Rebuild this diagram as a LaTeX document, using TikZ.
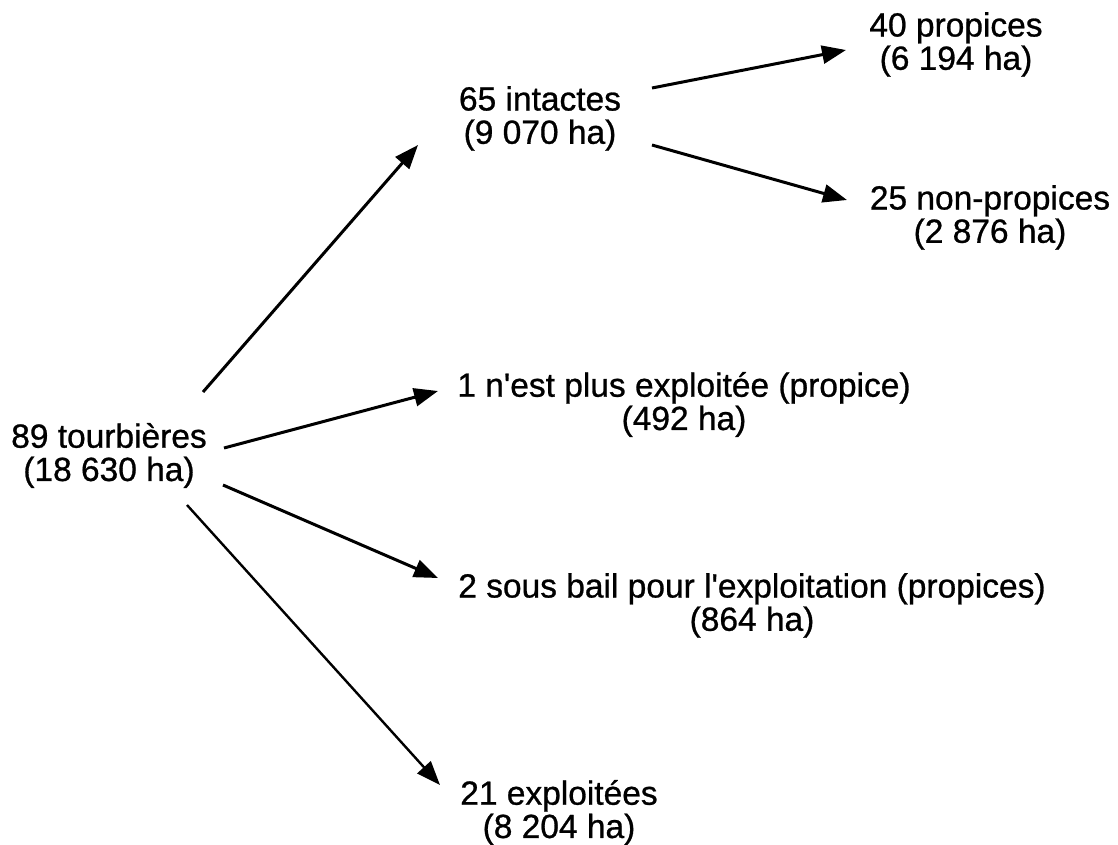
\documentclass[tikz,border=0pt]{standalone}
\usepackage{fontspec}
\setmainfont{Liberation Sans}[Ligatures=TeXOff,FakeBold=0.8]
\usetikzlibrary{arrows.meta}
\newcommand\lstrut{\rule[-8pt]{0pt}{32pt}}
\tikzset{
  lbl/.style={align=center, inner sep=0pt, font=\fontsize{33.5}{32}\selectfont},
  arr/.style={line width=3pt, -{Triangle[length=24pt,width=18pt]}},
}
\begin{document}
\begin{tikzpicture}[x=1pt,y=1pt]
\useasboundingbox (0,0) rectangle (1118,-844);
\node[lbl] (T)   at (109,-456) {\lstrut 89 tourbières\\\lstrut (18 630 ha)};
\node[lbl] (I)   at (540,-119) {\lstrut 65 intactes\\\lstrut (9 070 ha)};
\node[lbl] (P40) at (956,-45)  {\lstrut 40 propices\\\lstrut (6 194 ha)};
\node[lbl] (P25) at (990,-218) {\lstrut 25 non-propices\\\lstrut (2 876 ha)};
\node[lbl] (N)   at (684,-405) {\lstrut 1 n'est plus exploitée (propice)\\\lstrut (492 ha)};
\node[lbl] (S)   at (752,-606) {\lstrut 2 sous bail pour l'exploitation (propices)\\\lstrut (864 ha)};
\node[lbl] (E)   at (559,-813) {\lstrut 21 exploitées\\\lstrut (8 204 ha)};

\draw[arr] ([shift={(94,64)}]T.center) -- ([shift={(-122,-26)}]I.center);
\draw[arr] ([shift={(115,8)}]T.center) -- ([shift={(-246,14)}]N.center);
\draw[arr] ([shift={(114,-29)}]T.center) -- ([shift={(-314,28)}]S.center);
\draw[arr, line width=2.4pt] ([shift={(78,-49)}]T.center) -- ([shift={(-119,28)}]E.center);
\draw[arr] ([shift={(112,31)}]I.center) -- ([shift={(-110,-5)}]P40.center);
\draw[arr] ([shift={(112,-26)}]I.center) -- ([shift={(-143,18)}]P25.center);
\end{tikzpicture}
\end{document}
